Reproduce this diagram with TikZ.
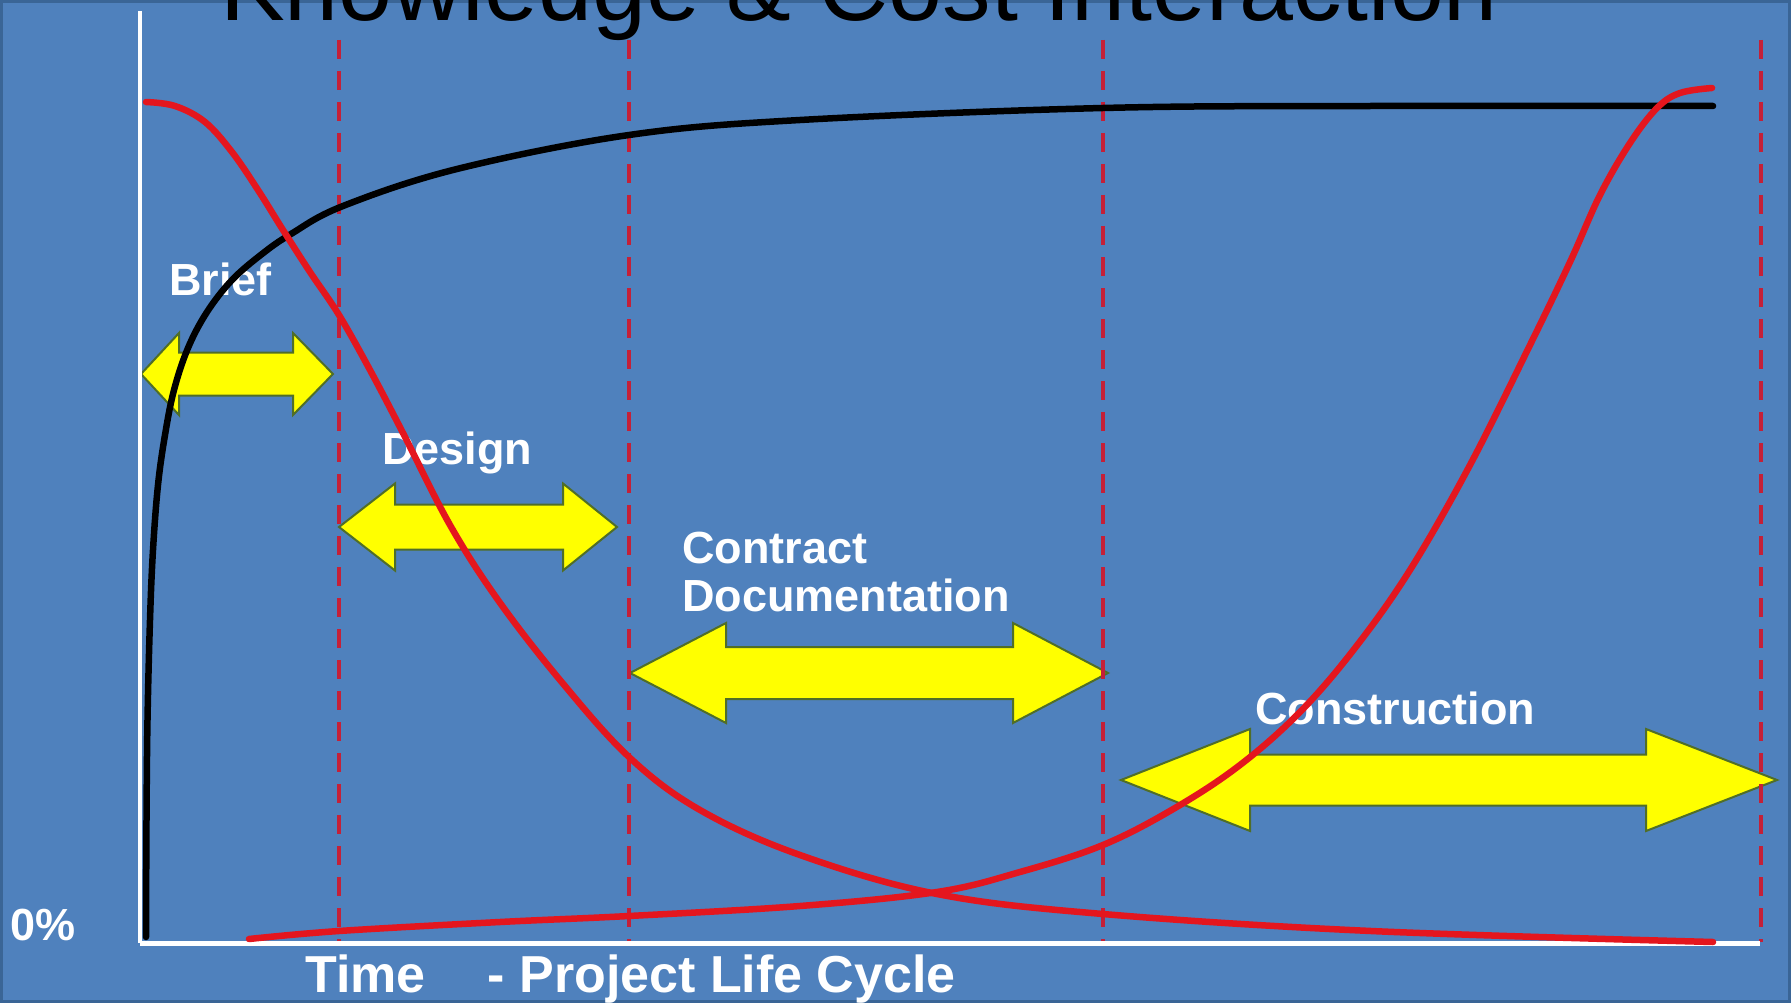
\documentclass[tikz,border=0pt]{standalone}
\usepackage{fontspec}
\setmainfont{Liberation Sans}
\definecolor{bgblue}{HTML}{4F81BD}
\definecolor{bgedge}{HTML}{3A6596}
\definecolor{curvered}{RGB}{228,22,30}
\definecolor{dashred}{RGB}{196,32,56}
\definecolor{arrowyellow}{RGB}{255,255,0}
\definecolor{arrowedge}{RGB}{80,110,40}
\newcommand{\phasearrow}[7]{%
  \filldraw[phasearrowstyle] (#1,#3) -- (#1+#6,#3-#4) -- (#1+#6,#3-#5) -- (#2-#7,#3-#5) -- (#2-#7,#3-#4) -- (#2,#3) -- (#2-#7,#3+#4) -- (#2-#7,#3+#5) -- (#1+#6,#3+#5) -- (#1+#6,#3+#4) -- cycle;}
\begin{document}
\begin{tikzpicture}[x=1pt,y=-1pt,
  phasearrowstyle/.style={fill=arrowyellow, draw=arrowedge, line width=2pt, line join=miter},
  lbl/.style={anchor=base west, inner sep=0pt, text=white, font=\bfseries\fontsize{45}{48}\selectfont},
  phaseline/.style={draw=dashred, line width=4pt, dash pattern=on 19pt off 12pt},
  axisline/.style={draw=white, line width=4pt},
  curve/.style={line width=6.5pt, line cap=round, line join=round}]
\useasboundingbox (0,0) rectangle (1791,1003);
\clip (0,0) rectangle (1791,1003);
\fill[bgblue] (0,0) rectangle (1791,1003);
\draw[bgedge, line width=6pt] (0,0) rectangle (1791,1003);

% title
\node[anchor=base west, inner sep=0pt, text=black, font=\fontsize{97}{100}\selectfont] (title) at (220,21) {Knowledge \& Cost Interaction};

% phase arrows
\phasearrow{141}{333}{374}{41}{21.5}{38}{40}
\phasearrow{339}{617}{527}{43.5}{22.5}{56}{54}
\phasearrow{630}{1108}{673}{50}{26}{96}{95}
\phasearrow{1121}{1777}{780}{51}{25.5}{129}{131}

% labels
\node[lbl] (brief) at (169,295) {Brief};
\node[lbl] (design) at (382,464) {Design};
\node[lbl] (contract) at (682,563) {Contract};
\node[lbl] (documentation) at (682,611) {Documentation};
\node[lbl] (construction) at (1255,724) {Construction};
\node[lbl] (zero) at (10,940) {0\%};
\node[anchor=base west, inner sep=0pt, text=white, font=\bfseries\fontsize{52}{54}\selectfont] (xlabel) at (305,992) {Time\hspace{62pt}- Project Life Cycle};

% phase boundaries
\coordinate (p1t) at (339,40); \coordinate (p1b) at (339,942);
\coordinate (p2t) at (629,40); \coordinate (p2b) at (629,942);
\coordinate (p3t) at (1103,40); \coordinate (p3b) at (1103,942);
\coordinate (p4t) at (1761,40); \coordinate (p4b) at (1761,942);
\draw[phaseline] (p1t) -- (p1b);
\draw[phaseline] (p2t) -- (p2b);
\draw[phaseline] (p3t) -- (p3b);
\draw[phaseline] (p4t) -- (p4b);

% axes
\coordinate (ytop) at (140,11);
\coordinate (origin) at (140,943);
\coordinate (xend) at (1760,943);
\draw[axisline] (ytop) -- (origin);
\draw[axisline, line width=5pt] (origin) -- (xend);

% knowledge curve (black)
\draw[curve, black] plot[smooth, tension=0.6] coordinates {
 (146,937) (146.5,820) (147.5,720) (150,620) (153,550) (158,485) (165,435) (174,390) (188,348) (207,312) (232,280) (262,254) (291,234) (343,206) (457,169) (629,135) (800,120) (1103,108) (1371,106) (1713,106)};

% influence curve (red, falling)
\draw[curve, curvered] plot[smooth, tension=0.6] coordinates {
 (146,102) (175,106) (205,122) (232,152) (258,190) (283,230) (310,272) (339,315) (370,370) (403,433) (450,525) (498,600) (560,680) (629,757) (700,810) (800,855) (937,894) (1103,914) (1371,931) (1713,942)};

% cost curve (red, rising)
\draw[curve, curvered] plot[smooth, tension=0.6] coordinates {
 (249,939) (339,931) (500,922) (629,916) (800,906) (937,892) (1020,872) (1103,845) (1175,808) (1240,765) (1300,712) (1355,648) (1410,570) (1470,465) (1530,345) (1570,262) (1600,195) (1630,143) (1657,108) (1680,93) (1712,88)};
\end{tikzpicture}
\end{document}
